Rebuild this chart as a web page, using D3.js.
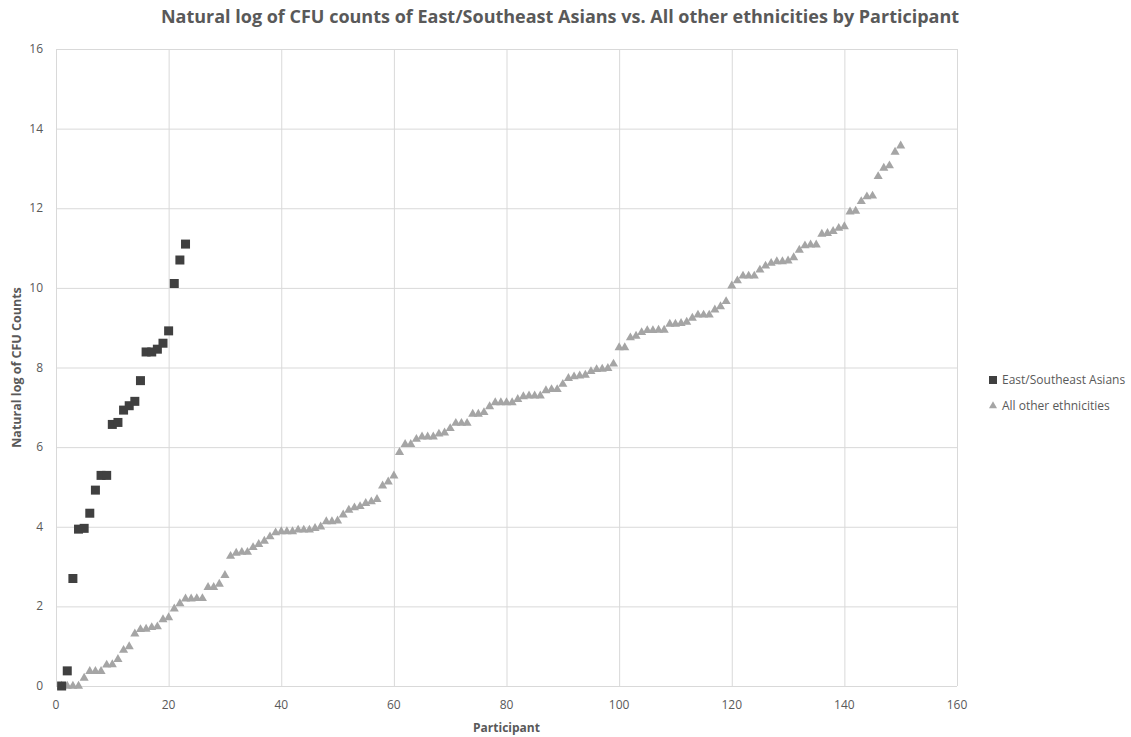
<!DOCTYPE html>
<html>
<head>
<meta charset="utf-8">
<script src="https://cdn.jsdelivr.net/npm/d3@7"></script>
<style>
  body { margin: 0; background: #fff; }
  #graf { width: 1131px; height: 737px; }
  text { font-family: "Open Sans", "Noto Sans", sans-serif; fill: #595959; }
  .grid line { stroke: #d9d9d9; stroke-width: 1; }
  .grid path { display: none; }
</style>
</head>
<body>
<div id="graf"></div>
<script>
// Datos
const seriesNames = ["East/Southeast Asians", "All other ethnicities"]

// ln(CFU) por participante (participante = posicion + 1)
const asians = [0, 0.38, 2.7, 3.94, 3.96, 4.34, 4.92, 5.29, 5.29, 6.57,
  6.62, 6.93, 7.04, 7.15, 7.67, 8.39, 8.39, 8.46, 8.61, 8.92,
  10.11, 10.7, 11.1]

const others = [0, 0, 0, 0, 0.2, 0.37, 0.37, 0.37, 0.53, 0.54,
  0.67, 0.9, 0.99, 1.31, 1.42, 1.43, 1.47, 1.49, 1.67, 1.72,
  1.94, 2.07, 2.19, 2.19, 2.2, 2.2, 2.48, 2.48, 2.56, 2.78,
  3.26, 3.34, 3.36, 3.36, 3.48, 3.56, 3.64, 3.75, 3.85, 3.88,
  3.88, 3.88, 3.92, 3.92, 3.92, 3.96, 4.0, 4.13, 4.13, 4.15,
  4.3, 4.42, 4.48, 4.51, 4.59, 4.63, 4.69, 5.03, 5.13, 5.28,
  5.87, 6.07, 6.07, 6.2, 6.26, 6.26, 6.26, 6.33, 6.36, 6.47,
  6.6, 6.6, 6.6, 6.83, 6.83, 6.87, 7.02, 7.12, 7.12, 7.12,
  7.12, 7.2, 7.27, 7.29, 7.29, 7.29, 7.42, 7.45, 7.45, 7.58,
  7.73, 7.77, 7.79, 7.81, 7.9, 7.95, 7.96, 7.98, 8.09, 8.5,
  8.5, 8.75, 8.79, 8.88, 8.93, 8.93, 8.94, 8.94, 9.09, 9.09,
  9.11, 9.14, 9.24, 9.32, 9.32, 9.32, 9.45, 9.53, 9.66, 10.05,
  10.18, 10.3, 10.3, 10.3, 10.45, 10.55, 10.62, 10.66, 10.66, 10.68,
  10.76, 10.95, 11.06, 11.08, 11.08, 11.35, 11.37, 11.42, 11.5, 11.54,
  11.91, 11.93, 12.17, 12.29, 12.31, 12.8, 13.01, 13.07, 13.41, 13.57]

const xTicks = [0, 20, 40, 60, 80, 100, 120, 140, 160]
const yTicks = [0, 2, 4, 6, 8, 10, 12, 14, 16]

// Dimensiones
const anchoTotal = 1131
const altoTotal = 737
const margins = { top: 49, right: 174, bottom: 51, left: 56 }
const ancho = anchoTotal - margins.left - margins.right
const alto = altoTotal - margins.top - margins.bottom

const colores = ["#404040", "#a5a5a5"]

const svg = d3.select("#graf").append("svg")
  .attr("width", anchoTotal)
  .attr("height", altoTotal)

const g = svg.append("g")
  .attr("transform", `translate(${margins.left}, ${margins.top})`)

// Escaladores
const x = d3.scaleLinear().domain([0, 160]).range([0, ancho])
const y = d3.scaleLinear().domain([0, 16]).range([alto, 0])

// Rejilla
g.append("g").attr("class", "grid")
  .attr("transform", `translate(0,${alto})`)
  .call(d3.axisBottom(x).tickValues(xTicks).tickSize(-alto).tickFormat(""))
g.append("g").attr("class", "grid")
  .call(d3.axisLeft(y).tickValues(yTicks).tickSize(-ancho).tickFormat(""))

// Etiquetas de ejes
g.selectAll(".xlab").data(xTicks).enter().append("text")
  .attr("x", d => x(d))
  .attr("y", alto + 23)
  .attr("text-anchor", "middle")
  .style("font-size", "12px")
  .text(d => d)

g.selectAll(".ylab").data(yTicks).enter().append("text")
  .attr("x", -13)
  .attr("y", d => y(d) + 4)
  .attr("text-anchor", "end")
  .style("font-size", "12px")
  .text(d => d)

// Puntos: otros (triangulos) y asiaticos (cuadrados)
const tri = d3.symbol().type(d3.symbolTriangle).size(36)
g.selectAll(".tri").data(others).enter().append("path")
  .attr("d", tri)
  .attr("transform", (d, i) => `translate(${x(i + 1)},${y(d)})`)
  .attr("fill", colores[1])

const lado = 9
g.selectAll(".sq").data(asians).enter().append("rect")
  .attr("x", (d, i) => x(i + 1) - lado / 2)
  .attr("y", d => y(d) - lado / 2)
  .attr("width", lado)
  .attr("height", lado)
  .attr("fill", colores[0])

// Titulo
svg.append("text")
  .attr("x", 560)
  .attr("y", 23)
  .attr("text-anchor", "middle")
  .style("font-size", "18px")
  .style("font-weight", "bold")
  .text("Natural log of CFU counts of East/Southeast Asians vs. All other ethnicities by Participant")

// Titulos de ejes
svg.append("text")
  .attr("x", margins.left + x(80))
  .attr("y", 732)
  .attr("text-anchor", "middle")
  .style("font-size", "12px")
  .style("font-weight", "bold")
  .text("Participant")

svg.append("text")
  .attr("transform", `translate(21, ${margins.top + y(8)}) rotate(-90)`)
  .attr("text-anchor", "middle")
  .style("font-size", "12.5px")
  .style("font-weight", "bold")
  .text("Natural log of CFU Counts")

// Leyenda
const legend = svg.append("g").attr("transform", "translate(988, 380)")
legend.append("rect")
  .attr("x", 1).attr("y", -4).attr("width", 8).attr("height", 8)
  .attr("fill", colores[0])
legend.append("path")
  .attr("d", d3.symbol().type(d3.symbolTriangle).size(28))
  .attr("transform", "translate(5, 26)")
  .attr("fill", colores[1])
legend.selectAll(".ltxt").data(seriesNames).enter().append("text")
  .attr("x", 14)
  .attr("y", (d, i) => 4 + i * 26)
  .style("font-size", "12px")
  .text(d => d)
</script>
</body>
</html>
